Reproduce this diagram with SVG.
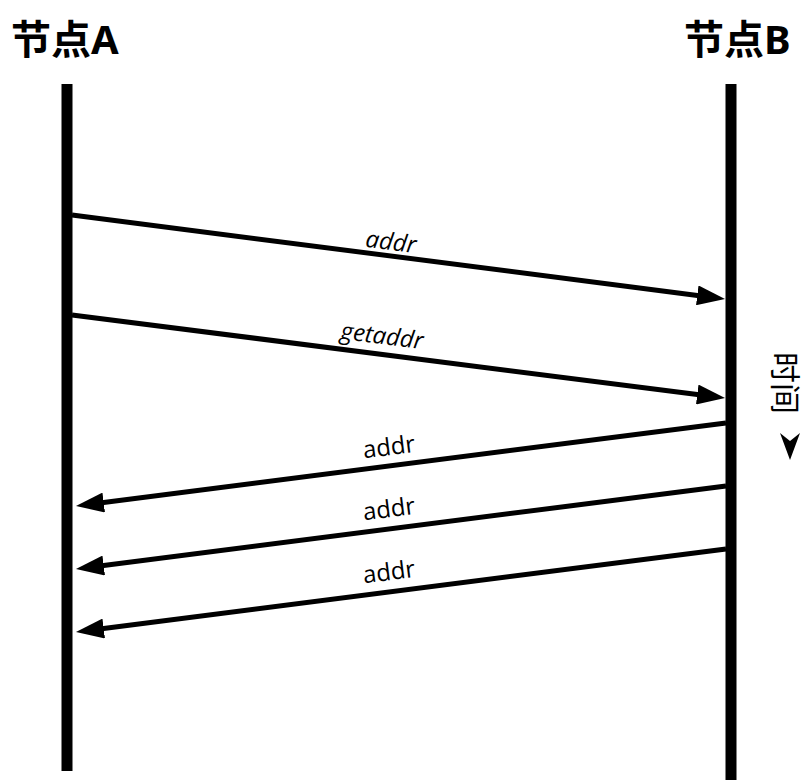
<svg xmlns="http://www.w3.org/2000/svg" width="811" height="780" viewBox="0 0 811 780">
<style>
.title{font-family:"Noto Sans","Noto Sans CJK SC",sans-serif;font-weight:bold;font-size:40px;fill:#000}
.life{stroke:#000;stroke-width:11;fill:none}
.msg{stroke:#000;stroke-width:5;fill:none;marker-end:url(#ah)}
.lbl{font-family:"Open Sans","Liberation Sans",sans-serif;font-size:24px;fill:#000;text-anchor:middle}
.it{font-style:italic}
.time{font-family:"Noto Sans CJK SC",sans-serif;font-size:31px;fill:#000}
</style>
<defs>
<marker id="ah" viewBox="0 0 28 20" refX="8" refY="10" markerWidth="28" markerHeight="20" markerUnits="userSpaceOnUse" orient="auto">
<path d="M0,0 L28,10 L0,20 Z" fill="#000"/>
</marker>
</defs>
<rect width="811" height="780" fill="#fff"/>
<g id="nodeA">
<text class="title" x="11" y="54">节点A</text>
<line class="life" x1="67" y1="84" x2="67" y2="771"/>
</g>
<g id="nodeB">
<text class="title" x="684" y="54">节点B</text>
<line class="life" x1="731" y1="84" x2="731" y2="780"/>
</g>
<g id="connectors">
<line class="msg" x1="72" y1="215" x2="705.2" y2="296.4"/>
<line class="msg" x1="72" y1="315" x2="705.2" y2="395.5"/>
<line class="msg" x1="726" y1="423" x2="95.8" y2="503.5"/>
<line class="msg" x1="726" y1="486" x2="95.8" y2="566.5"/>
<line class="msg" x1="726" y1="549" x2="95.8" y2="629.5"/>
</g>
<g id="labels">
<text class="lbl it" transform="translate(390,250) rotate(7.3)">addr</text>
<text class="lbl it" transform="translate(381,344) rotate(7.3)">getaddr</text>
<text class="lbl" transform="translate(390,455) rotate(-7.3)">addr</text>
<text class="lbl" transform="translate(390,517) rotate(-7.3)">addr</text>
<text class="lbl" transform="translate(390,580) rotate(-7.3)">addr</text>
</g>
<g id="time">
<text class="time" transform="translate(774,352) rotate(90)">时间</text>
<path d="M780,433 L790,441 L800,433 L790,460 Z" fill="#000"/>
</g>
</svg>
